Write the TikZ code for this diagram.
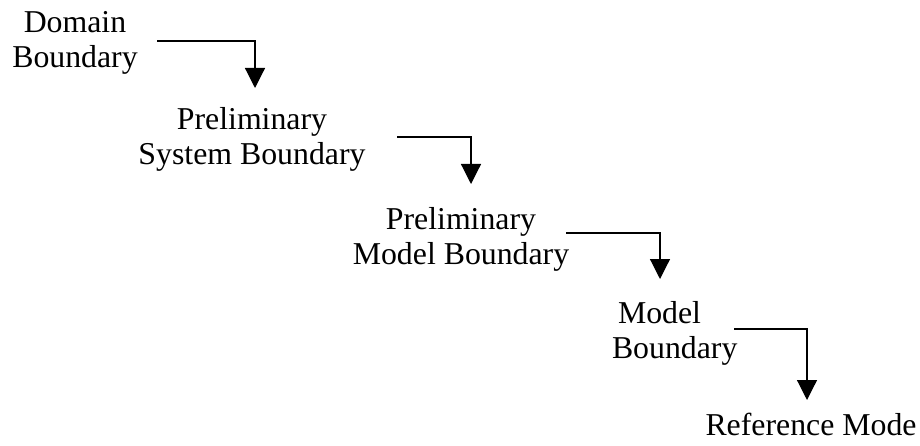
\documentclass[tikz,border=0pt]{standalone}
\usepackage{fontspec}
\setmainfont{Liberation Serif}
\usetikzlibrary{arrows.meta}
\begin{document}
\begin{tikzpicture}[x=1pt,y=-1pt,
  lbl/.style={inner sep=0pt, outer sep=0pt, anchor=base, font=\fontsize{31.8}{35}\selectfont},
  arr/.style={line width=1.2pt, -{Triangle[width=20pt,length=20pt]}}]
\useasboundingbox (0,0) rectangle (920,446);
\node[lbl, align=center] (n1) at (75,68) {Domain\\Boundary};
\node[lbl, align=center] (n2) at (252,165) {Preliminary\\System Boundary};
\node[lbl, align=center] (n3) at (461,265) {Preliminary\\Model Boundary};
\node[lbl, align=left, anchor=base west] (n4) at (612,358) {\hspace{6pt}Model\\Boundary};
\node[lbl] (n5) at (811,435) {Reference Mode};
\coordinate (s1) at (157,41);  \coordinate (t1) at (255,88);
\coordinate (s2) at (397,137); \coordinate (t2) at (471,184);
\coordinate (s3) at (566,233); \coordinate (t3) at (660,279);
\coordinate (s4) at (734,329); \coordinate (t4) at (807,400);
\draw[arr] (s1) -| (t1);
\draw[arr] (s2) -| (t2);
\draw[arr] (s3) -| (t3);
\draw[arr] (s4) -| (t4);
\end{tikzpicture}
\end{document}
